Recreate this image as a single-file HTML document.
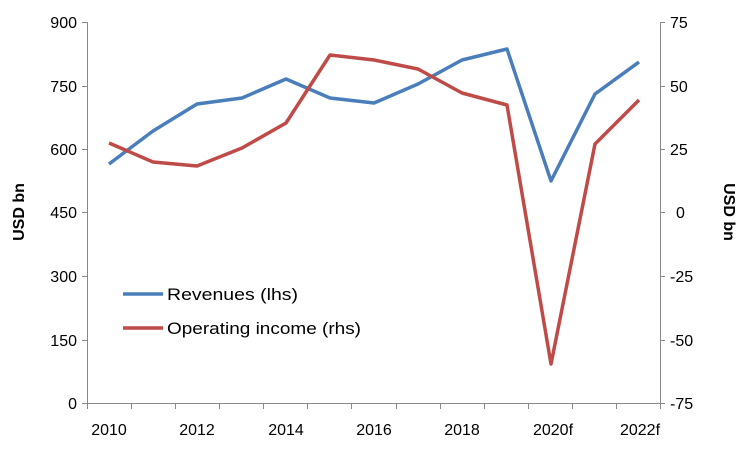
<!DOCTYPE html>
<html><head><meta charset="utf-8"><style>
body{margin:0;background:#fff;}
svg{display:block;font-family:"Liberation Sans",sans-serif;}
</style></head><body>
<svg width="750" height="450" viewBox="0 0 750 450">
<g stroke="#888" stroke-width="1" fill="none">
<line x1="87.5" y1="22" x2="87.5" y2="403"/>
<line x1="660.5" y1="22" x2="660.5" y2="403"/>
<line x1="87" y1="403.5" x2="660" y2="403.5"/>
<path d="M82 22.5H87M82 86.5H87M82 149.5H87M82 212.5H87M82 276.5H87M82 340.5H87M82 403.5H87"/>
<path d="M660 22.5H665M660 86.5H665M660 149.5H665M660 212.5H665M660 276.5H665M660 340.5H665M660 403.5H665"/>
<path d="M87.5 403V409M131.5 403V409M175.5 403V409M219.5 403V409M263.5 403V409M307.5 403V409M351.5 403V409M396.5 403V409M440.5 403V409M484.5 403V409M528.5 403V409M572.5 403V409M616.5 403V409M660.5 403V409"/>
</g>
<g font-size="16" fill="#000" text-anchor="end">
<text x="77" y="28">900</text><text x="77" y="92">750</text><text x="77" y="155">600</text><text x="77" y="218">450</text><text x="77" y="282">300</text><text x="77" y="346">150</text><text x="77" y="409">0</text>
</g>
<g font-size="16" fill="#000" text-anchor="start">
<text x="670" y="28">75</text><text x="670" y="92">50</text><text x="670" y="155">25</text><text x="676" y="218">0</text><text x="670" y="282">-25</text><text x="670" y="346">-50</text><text x="670" y="409">-75</text>
</g>
<g font-size="16" fill="#000" text-anchor="middle">
<text x="109" y="435">2010</text><text x="197" y="435">2012</text><text x="286" y="435">2014</text><text x="374" y="435">2016</text><text x="462" y="435">2018</text><text x="553" y="435">2020f</text><text x="640" y="435">2022f</text>
</g>
<text transform="translate(24,212) rotate(-90)" font-size="16" font-weight="bold" text-anchor="middle">USD bn</text>
<text transform="translate(724,212) rotate(90)" font-size="16" font-weight="bold" text-anchor="middle">USD bn</text>
<polyline fill="none" stroke="#4a7ebb" stroke-width="3.5" stroke-linejoin="round" points="109,164 153,131 197,104 242,98 286,79 330,98 374,103 418,84 462,60 507,49 551,181 595,94 639,62"/>
<polyline fill="none" stroke="#be4b48" stroke-width="3.5" stroke-linejoin="round" points="109,143 153,162 197,166 242,148 286,123 330,55 374,60 418,69 462,93 507,105 551,364 595,144 639,100"/>
<line x1="123" y1="294" x2="163" y2="294" stroke="#4a7ebb" stroke-width="3.5"/>
<line x1="123" y1="328" x2="163" y2="328" stroke="#be4b48" stroke-width="3.5"/>
<text x="167" y="300" font-size="17" textLength="131" lengthAdjust="spacingAndGlyphs">Revenues (lhs)</text>
<text x="167" y="334" font-size="17" textLength="194" lengthAdjust="spacingAndGlyphs">Operating income (rhs)</text>
</svg>
</body></html>
